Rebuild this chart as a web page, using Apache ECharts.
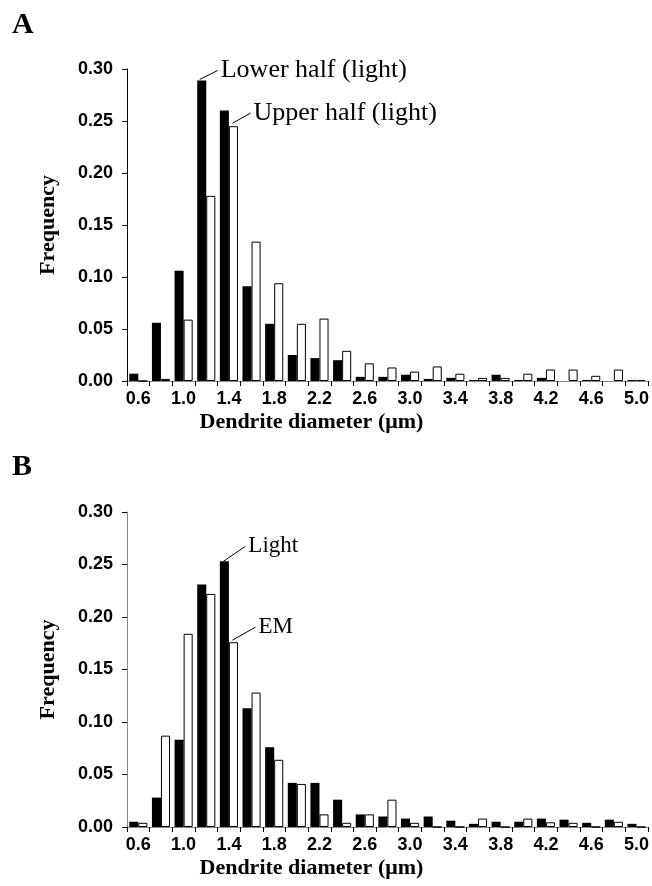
<!DOCTYPE html>
<html><head><meta charset="utf-8">
<script src="https://cdn.jsdelivr.net/npm/echarts@6/dist/echarts.min.js"></script>
<style>html,body{margin:0;padding:0;background:#fff}#c{width:652px;height:886px}</style>
</head><body><div id="c"></div>
<script>
// ---- data ----
const categories = ['0.6','0.8','1.0','1.2','1.4','1.6','1.8','2.0','2.2','2.4','2.6','2.8','3.0','3.2','3.4','3.6','3.8','4.0','4.2','4.4','4.6','4.8','5.0'];
const aLowerHalf = [0.007,0.056,0.106,0.289,0.260,0.091,0.055,0.025,0.022,0.020,0.004,0.004,0.006,0.002,0.003,0.001,0.006,0.001,0.003,0.000,0.001,0.000,0.001];
const aUpperHalf = [0.000,0.002,0.059,0.178,0.245,0.134,0.094,0.055,0.060,0.029,0.017,0.013,0.009,0.014,0.007,0.003,0.003,0.007,0.011,0.011,0.005,0.011,0.001];
const bLight     = [0.005,0.028,0.083,0.231,0.253,0.113,0.076,0.042,0.042,0.026,0.012,0.010,0.008,0.010,0.006,0.003,0.005,0.005,0.008,0.007,0.004,0.007,0.003];
const bEM        = [0.004,0.087,0.184,0.222,0.176,0.128,0.064,0.041,0.012,0.004,0.012,0.026,0.004,0.000,0.000,0.008,0.000,0.008,0.0045,0.004,0.000,0.005,0.000];
const yMin = 0, yMax = 0.30, yStep = 0.05;
const panelLabels = ['A','B'];
const yTitle = 'Frequency';
const xTitle = 'Dendrite diameter (\u03bcm)';
// annotations: [grid, seriesIndex, categoryIndex, text]
const annotations = [
  [0, 0, 3, 'Lower half (light)'],
  [0, 1, 4, 'Upper half (light)'],
  [1, 2, 4, 'Light'],
  [1, 3, 4, 'EM']
];

const SANS = 'Liberation Sans';
const SERIF = 'Liberation Serif';

const chart = echarts.init(document.getElementById('c'), null, {renderer:'canvas'});

function yAxis(gi, lineColor){
  return {
    type:'value', gridIndex:gi, min:yMin, max:yMax, interval:yStep,
    name:yTitle, nameLocation:'middle', nameRotate:90, nameGap:68,
    nameTextStyle:{fontFamily:SERIF, fontWeight:'bold', fontSize:22, color:'#000'},
    axisLine:{show:true, lineStyle:{color:lineColor, width:1}},
    axisTick:{show:true, length:5, lineStyle:{color:'#000'}},
    splitLine:{show:false},
    axisLabel:{margin:14, fontFamily:SANS, fontWeight:'bold', fontSize:18, color:'#000',
      formatter:v=>v.toFixed(2)}
  };
}
function xAxis(gi){
  return {
    type:'category', gridIndex:gi, data:categories,
    name:xTitle, nameLocation:'middle', nameGap:30,
    nameTextStyle:{fontFamily:SERIF, fontWeight:'bold', fontSize:22, color:'#000', padding:[0,152,0,0]},
    axisLine:{show:true, lineStyle:{color:'#888', width:1}},
    axisTick:{show:true, interval:0, length:5, lineStyle:{color:'#000'}},
    axisLabel:{interval:1, margin:9, fontFamily:SANS, fontWeight:'bold', fontSize:18, color:'#000'}
  };
}
const blackStyle = {color:'#000'};
const whiteStyle = {color:'#fff', borderColor:'#000', borderWidth:1};

chart.setOption({
  animation:false,
  backgroundColor:'#fff',
  grid:[
    {left:127, top:69, width:522, height:312},
    {left:127, top:512, width:522, height:315}
  ],
  xAxis:[xAxis(0), xAxis(1)],
  yAxis:[yAxis(0,'#000'), yAxis(1,'#888')],
  series:[
    {type:'bar', xAxisIndex:0, yAxisIndex:0, data:aLowerHalf, itemStyle:blackStyle, barGap:'0%', barCategoryGap:'20%'},
    {type:'bar', xAxisIndex:0, yAxisIndex:0, data:aUpperHalf, itemStyle:whiteStyle, barGap:'0%', barCategoryGap:'20%'},
    {type:'bar', xAxisIndex:1, yAxisIndex:1, data:bLight, itemStyle:blackStyle, barGap:'0%', barCategoryGap:'20%'},
    {type:'bar', xAxisIndex:1, yAxisIndex:1, data:bEM, itemStyle:whiteStyle, barGap:'0%', barCategoryGap:'20%'}
  ]
});

// annotation placement derived from the bars' own pixel positions
const seriesData = [aLowerHalf, aUpperHalf, bLight, bEM];
const offsets = [[-2,-1,16,-10],[-1,-3,17,-13],[-1,0,21,-15],[-1,-2,22,-15]];
const annFont = [26, 26, 23, 23];
const graphics = [];
panelLabels.forEach((t,i)=>{
  graphics.push({type:'text', left:12, top: i===0 ? 10 : 452,
    style:{text:t, font:'bold 30px "'+SERIF+'"', fill:'#000'}});
});
annotations.forEach((a,k)=>{
  const [gi, si, ci, txt] = a;
  const p0 = chart.convertToPixel({gridIndex:gi}, [ci, seriesData[si][ci]]);
  const p1 = chart.convertToPixel({gridIndex:gi}, [ci+1, 0]);
  const band = p1[0]-p0[0];
  const bw = band*0.8/2;
  const cx = p0[0] + (si%2===0 ? -bw/2 : bw/2);
  const cy = p0[1];
  const o = offsets[k];
  const x1 = cx+o[0], y1 = cy+o[1], x2 = cx+o[2], y2 = cy+o[3];
  graphics.push({type:'line', shape:{x1:x1,y1:y1,x2:x2,y2:y2}, style:{stroke:'#000', lineWidth:1}});
  graphics.push({type:'text', x:x2+3, y:y2, style:{text:txt, font:annFont[k]+'px "'+SERIF+'"', fill:'#000', textAlign:'left', textVerticalAlign:'middle'}});
});
chart.setOption({graphic:graphics});
</script></body></html>
